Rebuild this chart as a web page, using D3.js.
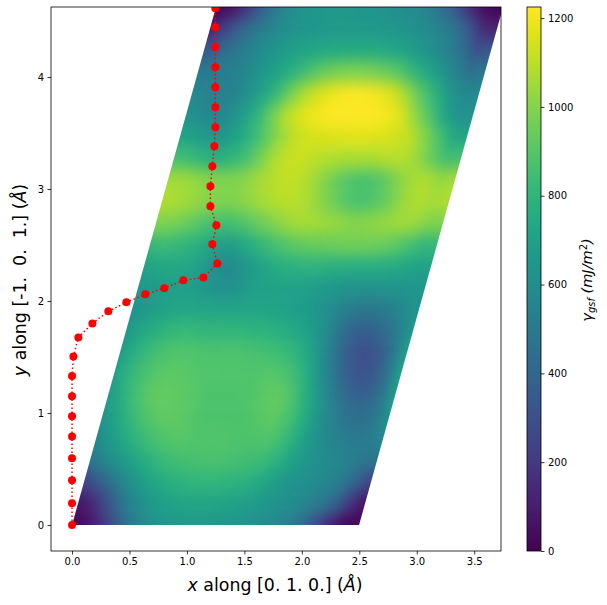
<!DOCTYPE html>
<html>
<head>
<meta charset="utf-8">
<script src="https://cdnjs.cloudflare.com/ajax/libs/d3/7.8.5/d3.min.js"></script>
<style>
html,body{margin:0;padding:0;background:#fff;}
svg{display:block;font-family:"DejaVu Sans",sans-serif;}
text{white-space:pre;}
</style>
</head>
<body>
<svg id="chart" width="607" height="605"></svg>
<script>
// Generalised stacking fault energy, sampled on the cell: rows go up the [-1 0 1] edge, columns along [0 1 0]
const gsfRows = [
[0,40,150,320,480,570,620,640,650,650,640,630,610,590,570,520,420,270,110,10],
[50,130,280,450,570,650,690,710,720,720,710,700,680,650,620,590,550,490,380,190],
[230,340,470,590,670,730,770,790,800,800,790,780,750,700,650,610,590,560,500,380],
[470,560,640,710,770,820,850,860,870,870,860,850,830,780,710,650,600,570,540,490],
[580,660,740,810,860,890,900,890,890,890,880,880,890,840,750,650,580,530,500,510],
[630,720,810,880,920,920,900,880,880,880,880,900,920,870,770,650,550,470,440,480],
[670,770,860,920,930,920,900,880,880,880,890,910,930,860,740,610,480,390,370,450],
[690,790,860,900,910,900,890,890,890,890,890,900,880,800,670,530,390,310,320,450],
[680,770,830,870,890,890,880,880,880,870,860,840,810,740,620,470,340,290,330,470],
[650,720,770,800,820,810,800,800,800,790,780,760,730,670,590,450,370,360,420,530],
[630,660,700,720,730,720,720,720,720,720,710,690,670,630,590,520,490,490,520,580],
[650,660,680,680,670,640,610,630,680,700,700,690,680,660,640,620,620,620,630,640],
[700,720,730,720,680,590,570,630,690,740,770,780,780,770,760,760,760,750,730,700],
[810,830,810,780,730,680,690,760,820,870,910,930,940,950,960,960,950,920,870,810],
[990,980,950,900,860,850,880,930,980,1030,1060,1060,1040,1020,1000,1010,1030,1050,1040,990],
[1080,1070,1040,1010,990,990,1020,1060,1090,1100,1080,1010,950,890,870,900,970,1050,1080,1060],
[1060,1050,1030,1000,990,1000,1040,1080,1110,1110,1060,990,920,880,870,910,990,1060,1080,1030],
[860,840,790,770,790,860,960,1070,1120,1120,1100,1080,1070,1070,1070,1090,1090,1030,930,850],
[720,690,660,650,710,800,910,1030,1110,1140,1150,1160,1170,1170,1160,1140,1110,1010,880,740],
[620,580,550,580,680,790,950,1090,1160,1200,1225,1225,1225,1225,1210,1160,1020,880,720,610],
[580,550,530,550,620,720,830,980,1090,1150,1200,1220,1220,1200,1150,1040,900,780,650,570],
[500,510,520,550,610,670,740,810,890,950,980,990,980,950,900,810,730,640,540,450],
[340,400,470,530,590,640,680,710,730,740,750,750,750,730,700,650,600,540,460,300],
[110,240,370,470,530,590,620,640,650,660,660,660,650,640,620,590,550,480,350,150]
];

// Minimum energy path
const pathX = [0,0,0,0,0,0,0,0,0.012,0.055,0.177,0.316,0.473,0.638,0.803,0.969,1.143,1.265,1.221,1.256,1.204,1.204,1.221,1.238,1.247,1.247,1.247,1.247,1.247,1.247,1.247];
const pathY = [0,0.195,0.40,0.595,0.79,0.97,1.15,1.33,1.505,1.675,1.80,1.908,1.988,2.06,2.113,2.185,2.21,2.336,2.506,2.676,2.845,3.024,3.203,3.381,3.551,3.729,3.908,4.086,4.265,4.444,4.613];

// Cell edges, in Å
const edgeA = [2.498, 0];
const edgeB = [1.253, 4.625];

const xDomain = [-0.183, 3.733];
const yDomain = [-0.232, 4.625];
const colorMax = 1225;
const xTickValues = [0,0.5,1,1.5,2,2.5,3,3.5];
const yTickValues = [0,1,2,3,4];
const colorTickValues = [0,200,400,600,800,1000,1200];

const box = {left:51, right:501, top:7, bottom:551};
const cbar = {left:527, right:541};

const svg = d3.select("#chart");
const x = d3.scaleLinear().domain(xDomain).range([box.left, box.right]);
const y = d3.scaleLinear().domain(yDomain).range([box.bottom, box.top]);
const colorScale = d3.scaleSequential(d3.interpolateViridis).domain([0, colorMax]);
const cbarY = d3.scaleLinear().domain([0, colorMax]).range([box.bottom, box.top]);

const defs = svg.append("defs");
const M = gsfRows.length, N = gsfRows[0].length;
const toPx = (u, v) => [x(edgeA[0]*u + edgeB[0]*v), y(edgeA[1]*u + edgeB[1]*v)];

defs.append("clipPath").attr("id","axesClip").append("rect")
  .attr("x",box.left).attr("y",box.top)
  .attr("width",box.right-box.left).attr("height",box.bottom-box.top);
defs.append("clipPath").attr("id","cellClip").append("polygon")
  .attr("points",[toPx(0,0),toPx(1,0),toPx(1,1),toPx(0,1)].map(p=>p.join(",")).join(" "));

const blur = defs.append("filter").attr("id","smooth")
  .attr("filterUnits","userSpaceOnUse")
  .attr("x",0).attr("y",-40).attr("width",607).attr("height",640)
  .attr("color-interpolation-filters","sRGB");
blur.append("feGaussianBlur").attr("stdDeviation","5.5 7.5");

// Repeat the periodic cell one margin past each edge so smoothing stays solid up to the boundary
const mod = (a,n) => ((a%n)+n)%n;
const cells = [];
for (let i=-3;i<M+3;i++) for (let j=-3;j<N+3;j++) {
  cells.push({i, j, value: gsfRows[mod(i,M)][mod(j,N)]});
}
const clipG = svg.append("g").attr("clip-path","url(#axesClip)");
clipG.append("g").attr("clip-path","url(#cellClip)")
  .append("g").attr("filter","url(#smooth)")
  .selectAll("polygon").data(cells).join("polygon")
  .attr("points", d => {
    const u0=(d.j-0.5)/N, u1=(d.j+0.5)/N, v0=(d.i-0.5)/M, v1=(d.i+0.5)/M;
    return [toPx(u0,v0),toPx(u1,v0),toPx(u1,v1),toPx(u0,v1)].map(p=>p.join(",")).join(" ");
  })
  .attr("fill", d => colorScale(d.value))
  .attr("stroke", d => colorScale(d.value))
  .attr("stroke-width",0.6);

// Path
const pathData = pathX.map((v,k)=>[v,pathY[k]]);
const line = d3.line().x(d=>x(d[0])).y(d=>y(d[1]));
const pathG = svg.append("g").attr("clip-path","url(#axesClip)");
pathG.append("path").datum(pathData).attr("d",line)
  .attr("fill","none").attr("stroke","#ff0000").attr("stroke-width",1.5)
  .attr("stroke-dasharray","1.5 2.5");
pathG.selectAll("circle").data(pathData).join("circle")
  .attr("cx",d=>x(d[0])).attr("cy",d=>y(d[1])).attr("r",4).attr("fill","#ff0000");

// Axes
function styleAxis(g){
  g.selectAll(".domain").remove();
  g.selectAll(".tick line").attr("stroke","#000").attr("stroke-width",0.8);
  g.selectAll(".tick text").attr("fill","#000").attr("font-size",10).attr("font-family",'"DejaVu Sans",sans-serif');
}
svg.append("g").attr("transform",`translate(0,${box.bottom})`)
  .call(d3.axisBottom(x).tickValues(xTickValues).tickFormat(d3.format(".1f")).tickSize(3.5).tickPadding(3.5))
  .call(styleAxis);
svg.append("g").attr("transform",`translate(${box.left},0)`)
  .call(d3.axisLeft(y).tickValues(yTickValues).tickFormat(d3.format("d")).tickSize(3.5).tickPadding(3.5))
  .call(styleAxis);
svg.append("rect").attr("x",box.left).attr("y",box.top)
  .attr("width",box.right-box.left).attr("height",box.bottom-box.top)
  .attr("fill","none").attr("stroke","#000").attr("stroke-width",0.8);

// Colorbar
const grad = defs.append("linearGradient").attr("id","cbarGrad")
  .attr("x1",0).attr("x2",0).attr("y1",1).attr("y2",0);
grad.selectAll("stop").data(d3.range(0,1.0001,0.05)).join("stop")
  .attr("offset",d=>d).attr("stop-color",d=>d3.interpolateViridis(d));
svg.append("rect").attr("x",cbar.left).attr("y",box.top)
  .attr("width",cbar.right-cbar.left).attr("height",box.bottom-box.top)
  .attr("fill","url(#cbarGrad)").attr("stroke","#000").attr("stroke-width",0.8);
svg.append("g").attr("transform",`translate(${cbar.right},0)`)
  .call(d3.axisRight(cbarY).tickValues(colorTickValues).tickFormat(d3.format("d")).tickSize(3.5).tickPadding(3.5))
  .call(styleAxis);

// Labels
const xl = svg.append("text").attr("x",275).attr("y",591).attr("text-anchor","middle")
  .attr("font-size",17.4).attr("fill","#000");
xl.append("tspan").attr("font-style","italic").text("x");
xl.append("tspan").text(" along [0. 1. 0.] (");
xl.append("tspan").attr("font-style","italic").text("Å");
xl.append("tspan").text(")");

const yl = svg.append("text").attr("transform","translate(26,280) rotate(-90)").attr("text-anchor","middle")
  .attr("font-size",17.4).attr("fill","#000");
yl.append("tspan").attr("font-style","italic").text("y");
yl.append("tspan").text(" along [-1.  0.  1.] (");
yl.append("tspan").attr("font-style","italic").text("Å");
yl.append("tspan").text(")");

const cl = svg.append("text").attr("transform","translate(592,280) rotate(-90)").attr("text-anchor","middle")
  .attr("font-size",14.5).attr("fill","#000").attr("font-style","italic");
cl.append("tspan").text("γ");
cl.append("tspan").attr("font-size",10).attr("dy",3).text("gsf");
cl.append("tspan").attr("dy",-3).text(" (mJ/m");
cl.append("tspan").attr("font-style","normal").attr("font-size",10).attr("dy",-5).text("2");
cl.append("tspan").attr("dy",5).text(")");
</script>
</body>
</html>
